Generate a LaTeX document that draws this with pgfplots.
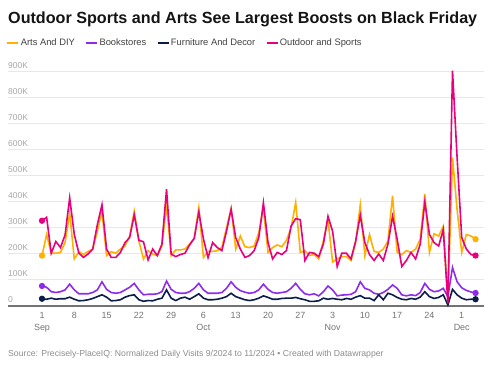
\documentclass[border=0pt]{standalone}
\usepackage{pgfplots}
\usepackage{pgfplotstable}
\pgfplotsset{compat=1.18}
\usepackage{fontspec}
\setmainfont{Liberation Sans}
\definecolor{cArts}{HTML}{FFB000}
\definecolor{cBook}{HTML}{8F2BEA}
\definecolor{cFurn}{HTML}{0C1C4A}
\definecolor{cOut}{HTML}{E8007D}
\pgfplotstableread{
day arts book furn out
0 194 77 28 328
1 275 72 26 341
2 203 55 30 203
3 203 52 26 248
4 206 55 28 225
5 244 62 28 273
6 357 84 34 416
7 181 62 26 275
8 209 47 20 203
9 198 47 21 187
10 210 47 24 200
11 219 52 29 219
12 288 62 36 313
13 364 93 43 389
14 194 64 34 219
15 209 52 20 187
16 203 49 21 187
17 219 52 24 206
18 231 62 34 244
19 269 72 40 263
20 364 87 43 351
21 250 62 24 253
22 181 43 18 247
23 213 45 21 177
24 200 45 20 219
25 194 47 26 194
26 231 55 30 238
27 390 96 62 449
28 194 64 30 200
29 216 52 21 190
30 216 49 30 198
31 219 49 34 203
32 238 55 26 235
33 260 68 36 260
34 378 87 47 362
35 187 62 30 258
36 210 49 24 186
37 210 49 24 244
38 213 49 26 225
39 225 52 30 213
40 300 68 36 288
41 375 93 49 372
42 219 72 36 263
43 269 59 30 219
44 228 53 24 187
45 225 49 21 194
46 231 52 24 213
47 282 62 30 263
48 376 84 39 397
49 206 64 33 244
50 225 52 26 181
51 235 49 26 206
52 228 52 29 198
53 253 55 30 213
54 300 68 30 307
55 398 87 33 336
56 206 64 28 332
57 213 47 24 175
58 194 43 18 206
59 198 47 18 203
60 181 39 20 190
61 250 55 30 238
62 332 77 26 345
63 169 62 29 288
64 181 39 26 152
65 190 42 24 203
66 190 43 29 203
67 175 45 26 181
68 244 55 34 250
69 389 93 40 348
70 194 68 30 244
71 275 62 30 198
72 210 49 21 175
73 206 45 43 200
74 219 52 24 175
75 250 64 49 238
76 424 81 43 345
77 206 68 33 257
78 198 43 26 152
79 213 39 24 175
80 206 43 29 206
81 219 40 26 181
82 257 52 34 238
83 430 87 55 400
84 206 64 36 275
85 278 55 29 244
86 269 58 33 231
87 307 68 43 294
88 25 36 4 10
89 570 148 64 905
90 370 93 43 570
91 206 70 30 263
92 275 60 24 219
93 269 54 26 198
94 257 50 26 194
}\datatable
\begin{document}
\begin{tikzpicture}
\useasboundingbox (0,0) rectangle (492bp,368bp);
\node[anchor=base west, inner sep=0pt, font=\fontsize{16.2}{18}\selectfont\bfseries, text=black!92] at (8bp,344.7bp) {Outdoor Sports and Arts See Largest Boosts on Black Friday};
\node[anchor=base west, inner sep=0pt, font=\fontsize{8.7}{10}\selectfont, text=black!45] at (8bp,11.5bp) {Source: Precisely-PlaceIQ: Normalized Daily Visits 9/2024 to 11/2024 \textbullet{} Created with Datawrapper};
\begin{axis}[
  at={(8bp,62bp)}, anchor=south west,
  scale only axis, width=476bp, height=234bp,
  xmin=-7.372, xmax=95.83, ymin=0, ymax=900,
  clip=false,
  axis x line*=bottom, axis y line*=left,
  y axis line style={draw=none},
  x axis line style={draw=black!55, line width=1.3bp, -},
  major tick length=0pt,
  ymajorgrids, grid style={draw=black!9, line width=1bp},
  ytick={0,100,...,900},
  yticklabels={0,100K,200K,300K,400K,500K,600K,700K,800K,900K},
  yticklabel style={anchor=south west, inner sep=0pt, yshift=3.5bp, font=\fontsize{8.5}{10}\selectfont, text=black!35},
  xtick={0,7,...,91},
  xticklabels={{1\\Sep},8,15,22,29,{6\\Oct},13,20,27,{3\\Nov},10,17,24,{1\\Dec}},
  xticklabel style={align=center, anchor=north, inner sep=0pt, yshift=-6.5bp, font=\fontsize{9}{11.5}\selectfont, text=black!55},
  legend columns=-1,
  legend style={at={(0,1)}, anchor=west, yshift=28.7bp, xshift=-1.5bp, draw=none, fill=none, inner sep=0pt,
    font=\fontsize{9.4}{11}\selectfont, nodes={inner sep=1.5bp},
    /tikz/every even column/.append style={column sep=9bp}},
  legend image code/.code={\draw[#1, line width=1.6bp] (0bp,0bp) -- (11bp,0bp);},
  every axis plot/.append style={line width=1.6bp, mark=*, mark size=2.3bp, mark indices={1,95}, mark options={solid}},
]
\addplot[cArts] table[x=day, y=arts] {\datatable};
\addlegendentry{\textcolor{black!75}{Arts And DIY}}
\addplot[cBook] table[x=day, y=book] {\datatable};
\addlegendentry{\textcolor{black!75}{Bookstores}}
\addplot[cFurn] table[x=day, y=furn] {\datatable};
\addlegendentry{\textcolor{black!75}{Furniture And Decor}}
\addplot[cOut] table[x=day, y=out] {\datatable};
\addlegendentry{\textcolor{black!75}{Outdoor and Sports}}
\end{axis}
\end{tikzpicture}
\end{document}
